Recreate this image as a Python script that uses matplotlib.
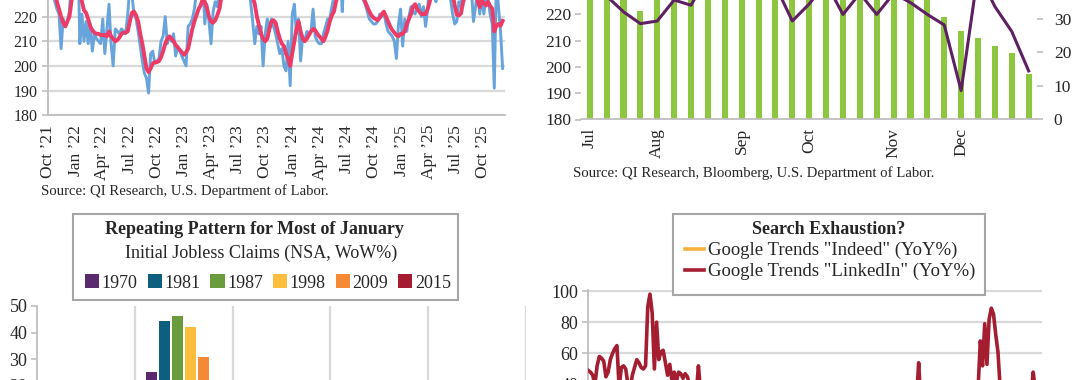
import matplotlib
matplotlib.use("Agg")
import matplotlib.pyplot as plt
import matplotlib.dates as mdates
import numpy as np
import pandas as pd
from matplotlib.patches import Rectangle

plt.rcParams['font.family'] = ['Liberation Serif', 'DejaVu Serif']
TXT = '#262626'
GRID = '#d9d9d9'
AXC = '#bfbfbf'

# ---------------- data ----------------
# Panel A: initial jobless claims (SA, K), weekly from week ending 2021-10-23
claims_start = "2021-10-23"
claims_weekly = [
    240, 236, 230, 226, 223, 221, 207, 219, 216, 218, 222, 236, 252, 268, 250,
    209, 221, 210, 218, 209, 217, 206, 213, 211, 210, 209, 219, 205, 215, 225, 209,
    200, 215, 214, 213, 215, 214, 213, 221, 232, 229, 221, 219, 214, 208, 202, 197, 195,
    189, 205, 206, 201, 202, 203, 210, 212, 220, 209, 212, 210, 213, 204, 208, 206, 204, 202, 200,
    216, 217, 219, 223, 230, 232, 228, 235, 217, 225, 218, 209, 222, 226, 224, 230, 236,
    240, 245, 250, 255, 248, 252, 245, 240, 238, 245, 242, 236, 232,
    226, 218, 209, 216, 213, 216, 200, 213, 219, 214, 219, 216, 213, 209, 205, 207, 200, 198, 210, 192,
    221, 225, 213, 219, 202, 212, 210, 214, 213, 214, 223, 212, 210, 209, 209, 213, 216, 219, 219, 224,
    228, 232, 235, 238, 222,
    240, 236, 245, 235, 230, 232, 231, 230, 229,
    227, 225, 222, 219, 218, 217, 217, 218, 221, 220, 222, 217, 214, 213, 212, 210,
    203, 217, 223, 208, 219, 214, 220, 224, 222, 221, 224, 225, 220, 224, 216, 223, 235, 229, 229, 226,
    239, 248, 250, 246, 237,
    233, 227, 221, 217, 218, 226, 224, 235, 229, 237, 263, 231, 218, 224, 232, 221, 228, 221, 228, 227,
    221, 217, 191, 236, 224, 214, 199,
]
claims_4wk = [
    265, 252, 240, 230, 226, 223, 220, 217.5, 216, 218, 220, 226, 234, 242, 245,
    232, 226, 222.5, 221.5, 219, 216, 214.5, 213.5, 213, 213, 212.5, 212.5, 212.5, 212, 214, 212,
    211, 210, 210.5, 211.5, 213, 213.5, 213.5, 214, 218, 221.5, 222, 220.5, 218, 213, 209, 204, 199,
    197.5, 199, 201, 201.5, 201.5, 202, 203.5, 206, 209, 211, 212, 211, 210, 208.5, 207.5, 206.5, 205.5,
    204.5, 205.5,
    207, 211, 215, 218, 220.5, 223, 224.5, 227, 226, 223.5, 220, 218, 217.5, 218.5, 220.5, 223, 228,
    233, 238, 242, 246, 249, 250, 249, 246, 243, 242, 241, 239, 236,
    232, 228, 225, 220, 216.5, 213, 211, 210, 211, 215, 218, 218.5, 217.5, 214, 211, 209, 208, 205, 203, 200,
    205, 210, 215, 218, 214, 211, 210, 211, 212.5, 214, 215, 214.5, 213, 212, 211, 210, 212, 214.5, 218,
    220.5, 222, 226, 229, 232, 232,
    233, 235, 237, 238, 236, 235, 233, 232, 230,
    228, 226, 224, 222, 220.5, 219.5, 219, 218.5, 219.5, 221, 222, 220, 218, 216, 214.5, 213.5,
    212.5, 212, 213, 213, 214, 217, 219, 221, 224, 225, 223, 222, 221, 221, 221, 223, 226, 229, 231, 232,
    233, 238, 243, 246, 245,
    241.5, 235.75, 229.5, 224.5, 220.75, 220.5, 221.25, 225.75, 228.5, 231.25, 241, 240, 237.25, 234,
    226.25, 223.75, 226.25, 225.5, 224.5, 226, 224.25, 223.25, 214, 216.25, 217, 216.25, 218.25,
]
claims_tick_start = "2021-10-22"   # quarterly tick labels from here

# Panel B: Jul-Dec weekly (bars right axis, claims line left axis)
h2_month_labels = ["Jul", "Aug", "Sep", "Oct", "Nov", "Dec"]
h2_month_first_week = [0, 4, 9, 13, 18, 22]
h2_bars = [40, 42, 41, 32.4, 43, 44, 42, 45, 44, 43, 46, 44, 42, 41, 40, 42, 41, 40, 39, 38, 37,
           30.4, 26.4, 24.2, 21.9, 19.7, 13.5]
h2_claims = [233, 227, 221, 216.5, 217.5, 225.5, 223.5, 235, 229, 237, 263, 231, 217.5, 224, 232,
             220, 228, 220, 228, 224.5, 220, 216, 191, 236, 223, 213.5, 198.5]

# Panel C: January weeks, NSA WoW%
jan_weeks = ["Wk 1", "Wk 2", "Wk 3", "Wk 4", "Wk 5"]
jan_years = ["1970", "1981", "1987", "1998", "2009", "2015"]
wow_1970 = [8, 25.0, -6, -10, -4]
wow_1981 = [12, 44.2, -10, -8, -6]
wow_1987 = [10, 46.4, -12, -9, -5]
wow_1998 = [14, 41.9, -9, -11, -3]
wow_2009 = [16, 30.7, -7, -12, -8]
wow_2015 = [18, 17.0, -8, -10, -5]

# Panel D: Google Trends YoY%
linkedin_yoy = [
    49, 48, 46, 40, 52, 58, 57, 55, 45, 48, 56, 60, 63, 65, 38, 51, 52, 50, 40, 38,
    46, 51, 56, 54, 51, 50, 52, 90, 98, 86, 50, 80, 56, 61, 62, 54, 46, 53, 42, 48,
    42, 48, 47, 44, 47, 45, 40, 36, 38, 34, 52, 35,
    32, 30, 34, 28, 25, 27, 22, 24, 20, 18, 21, 17, 15, 19, 14, 12, 16, 10, 8, 11,
    6, 9, 4, 2, 5, 0, -3, 1, -5, -2, -8, -4, -10, -6, -12, -9, -14, -11, -8, -13,
    -10, -7, -12, -9, -5, -8, -3, -6, -1, -4, 2, -2, 4, 0, 6, 3, 8, 5, 10, 7,
    12, 9, 14, 11, 16, 13, 18, 15, 20, 17, 22, 19, 24, 21, 26, 23, 28, 25, 30, 27,
    24, 29, 26, 31, 28, 33, 30, 27, 32, 29, 26, 31, 28, 33, 30, 27, 30,
    30, 54, 28,
    25, 29, 22, 27, 20, 24, 18, 23, 26, 21, 28, 24, 30, 26, 22, 27, 31, 25, 29, 33,
    28, 32, 35, 30, 36,
    38, 68, 52, 79, 53, 82, 89, 85, 72, 61, 38,
    34, 30, 36, 31, 27, 33, 29, 25, 31, 28, 34, 30, 36, 33,
    48, 36, 30, 32,
]
indeed_week = [0, 15, 30, 45, 60, 75, 90, 105, 120, 135, 150, 165, 180, 195, 205]
indeed_yoy = [35, 30, 38, 25, 12, -5, -18, -25, -20, -12, -5, 0, 8, 4, 6]

# ---------------- figure ----------------
W, H = 1080, 380
fig = plt.figure(figsize=(W / 100, H / 100), dpi=100)


def px_axes(l, t, r, b):
    return fig.add_axes([l / W, 1 - b / H, (r - l) / W, (b - t) / H])


def fx(x):
    return x / W


def fy(y):
    return 1 - y / H


def style_spines(ax, left=True, bottom=True):
    for s in ax.spines.values():
        s.set_visible(False)
    if left:
        ax.spines['left'].set_visible(True)
        ax.spines['left'].set_color(AXC)
        ax.spines['left'].set_linewidth(1.3)
    if bottom:
        ax.spines['bottom'].set_visible(True)
        ax.spines['bottom'].set_color(AXC)
        ax.spines['bottom'].set_linewidth(1.3)


# ---- Panel A ----
axA = px_axes(48.3, 0, 505, 115.3)
dates = pd.date_range(claims_start, periods=len(claims_weekly), freq='7D')
axA.plot(dates, claims_weekly, color='#68a4dc', lw=2.1, zorder=3, solid_joinstyle='round')
axA.plot(dates, claims_4wk, color='#ec3b66', lw=2.8, zorder=4, solid_joinstyle='round')
axA.set_ylim(180, 226.7)
axA.set_yticks([180, 190, 200, 210, 220])
axA.set_xlim(pd.Timestamp('2021-10-22'), pd.Timestamp('2026-01-04'))
ticks = pd.date_range(claims_tick_start, periods=17, freq=pd.DateOffset(months=3))
axA.set_xticks(ticks)
axA.xaxis.set_major_formatter(mdates.DateFormatter("%b \u2019%y"))
axA.grid(axis='y', color=GRID, lw=1.6)
axA.set_axisbelow(True)
style_spines(axA)
axA.tick_params(axis='y', length=4, width=1.2, color=AXC, pad=4, labelsize=11.5, labelcolor=TXT)
axA.tick_params(axis='x', length=0, pad=7, labelsize=12.5, labelrotation=90, labelcolor=TXT)
fig.text(fx(40.6), fy(191), "Source: QI Research, U.S. Department of Labor.",
         fontsize=10.6, color=TXT, ha='left', va='center')

# ---- Panel B ----
axP = px_axes(581.3, 0, 1037.1, 119.5)
axB = axP.twinx()
xb = np.arange(len(h2_bars))
axB.bar(xb, h2_bars, width=0.36, color='#8dc63f', zorder=2)
axB.set_ylim(0, 35.6)
axB.set_yticks([0, 10, 20, 30])
axP.plot(xb, h2_claims, color='#5e1f63', lw=2.2, zorder=3, solid_joinstyle='round')
axP.set_ylim(180, 225.5)
axP.set_yticks([180, 190, 200, 210, 220])
axP.set_xlim(-0.5, len(h2_bars) - 0.5)
axP.set_xticks(h2_month_first_week)
axP.set_xticklabels(h2_month_labels)
axP.set_zorder(axB.get_zorder() + 1)
axP.patch.set_visible(False)
style_spines(axP, left=False, bottom=True)
for s in axB.spines.values():
    s.set_visible(False)
axP.tick_params(axis='y', length=4, width=1.2, color=AXC, pad=3, labelsize=12.5, labelcolor=TXT)
axB.tick_params(axis='y', length=4, width=1.2, color=AXC, pad=8, labelsize=12.5, labelcolor=TXT)
axP.tick_params(axis='x', length=0, pad=6, labelsize=12.5, labelrotation=90, labelcolor=TXT)
fig.text(fx(572.7), fy(173), "Source: QI Research, Bloomberg, U.S. Department of Labor.",
         fontsize=10.6, color=TXT, ha='left', va='center')

# ---- Panel C ----
axC = px_axes(37, 306, 526, 306 + 50 * 2.65)
colors_c = ['#5b2a6e', '#0e5e7e', '#6a9c3e', '#fbbd3c', '#f48a36', '#a51c30']
series_c = [wow_1970, wow_1981, wow_1987, wow_1998, wow_2009, wow_2015]
xc = np.arange(len(jan_weeks))
bars_c = []
for k, (yr, vals, col) in enumerate(zip(jan_years, series_c, colors_c)):
    b = axC.bar(xc + (k - 2.5) * 0.133, vals, width=0.115, color=col, label=yr, zorder=3)
    bars_c.append(b)
axC.set_xlim(-0.5, len(jan_weeks) - 0.5)
axC.set_ylim(0, 50)
axC.set_yticks([20, 30, 40, 50])
axC.set_xticks([])
axC.set_xticks(np.arange(len(jan_weeks)) + 0.5, minor=True)
axC.grid(axis='x', which='minor', color=GRID, lw=1.6)
axC.set_axisbelow(True)
style_spines(axC, left=True, bottom=False)
axC.tick_params(axis='y', length=4, width=1.2, color=AXC, pad=3, labelsize=13, labelcolor=TXT)
axC.tick_params(axis='x', which='both', length=0, labelbottom=False)

boxC = Rectangle((fx(73), fy(300)), fx(458) - fx(73), fy(214) - fy(300), transform=fig.transFigure,
                 facecolor='white', edgecolor='#a6a6a6', lw=1.5, zorder=1)
fig.add_artist(boxC)
fig.text(fx(254), fy(229), "Repeating Pattern for Most of January", fontsize=13, fontweight='bold',
         color=TXT, ha='center', va='center', zorder=3)
fig.text(fx(261), fy(253), "Initial Jobless Claims (NSA, WoW%)", fontsize=13,
         color=TXT, ha='center', va='center', zorder=3)
fig.legend(bars_c, jan_years, loc='center', bbox_to_anchor=(fx(268), fy(283)),
           bbox_transform=fig.transFigure, ncol=6, frameon=False, fontsize=13,
           handlelength=0.78, handleheight=0.78, handletextpad=0.15, columnspacing=0.55,
           borderpad=0, borderaxespad=0, labelcolor=TXT)

# ---- Panel D ----
axD = px_axes(588.3, 291 - 0.5 * 1.56, 1042, 291 + 100 * 1.56)
lnI, = axD.plot(indeed_week, indeed_yoy, color='#f6b13a', lw=2.6, zorder=3)
lnL, = axD.plot(np.arange(len(linkedin_yoy)), linkedin_yoy, color='#a51d31', lw=2.6, zorder=4,
                solid_joinstyle='round')
axD.set_xlim(0, 206)
axD.set_ylim(0, 100.5)
axD.set_yticks([0, 20, 40, 60, 80, 100])
axD.set_yticklabels(['', '', '40', '60', '80', '100'])
axD.set_xticks([])
axD.grid(axis='y', color=GRID, lw=1.6)
axD.set_axisbelow(True)
style_spines(axD, left=True, bottom=False)
axD.tick_params(axis='y', length=4, width=1.2, color=AXC, pad=3, labelsize=13, labelcolor=TXT)

boxD = Rectangle((fx(673), fy(295)), fx(985) - fx(673), fy(214) - fy(295), transform=fig.transFigure,
                 facecolor='white', edgecolor='#a6a6a6', lw=1.5, zorder=1)
fig.add_artist(boxD)
fig.text(fx(829), fy(229), "Search Exhaustion?", fontsize=13, fontweight='bold',
         color=TXT, ha='center', va='center', zorder=3)
fig.legend([lnI, lnL], ['Google Trends "Indeed" (YoY%)', 'Google Trends "LinkedIn" (YoY%)'],
           loc='upper left', bbox_to_anchor=(fx(685), fy(242)), bbox_transform=fig.transFigure,
           ncol=1, frameon=False, fontsize=13.5, handlelength=1.0, handletextpad=0.2,
           labelspacing=0.2, borderpad=0, borderaxespad=0, labelcolor=TXT)

fig.savefig("out.png", dpi=100)
